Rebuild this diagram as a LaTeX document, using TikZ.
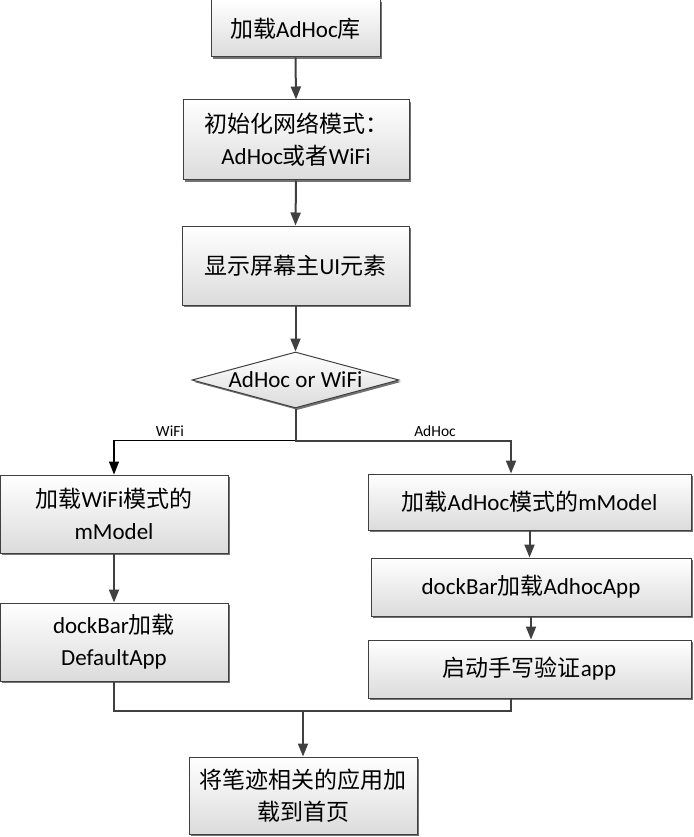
\documentclass[tikz,border=0pt]{standalone}
\usepackage{fontspec}
\setmainfont{Carlito}
\newfontfamily\cjk{Noto Sans CJK SC}
\newcommand\zhc[1]{{\cjk #1}}
\usetikzlibrary{shapes.geometric,arrows.meta,shadows}
\definecolor{edge}{HTML}{404040}
\tikzset{
  box/.style={draw=edge, line width=1pt, top color=white, bottom color=black!14,
    drop shadow={shadow xshift=2pt, shadow yshift=-2pt, fill=black!55, opacity=1},
    inner sep=0pt, align=center, font=\fontsize{23}{32}\selectfont},
  arr/.style={draw=edge, line width=2pt, -{Triangle[length=13pt,width=10pt]}},
  conn/.style={draw=edge, line width=2pt},
  thinarr/.style={draw=black, line width=1.2pt, -{Triangle[length=13pt,width=10pt]}},
  lbl/.style={font=\fontsize{15.5}{17}\selectfont, inner sep=0pt}
}
\begin{document}
\begin{tikzpicture}[x=1pt,y=-1pt]
\useasboundingbox (0,0) rectangle (693,837);
\node[box, minimum width=169pt, minimum height=57pt] (b1) at (295.5,28.5) {\zhc{加载}AdHoc\zhc{库}};
\node[box, minimum width=226pt, minimum height=80pt] (b2) at (296,140) {\zhc{初始化网络模式：}\\AdHoc\zhc{或者}WiFi};
\node[box, minimum width=227pt, minimum height=79pt] (b3) at (295.5,265.5) {\zhc{显示屏幕主}UI\zhc{元素}};
\node[box, shape=diamond, aspect=3.7, minimum width=207pt, minimum height=56pt] (dia) at (295.5,380) {AdHoc or WiFi};
\node[box, minimum width=228pt, minimum height=78pt] (L1) at (114,514) {\zhc{加载}WiFi\zhc{模式的}\\mModel};
\node[box, minimum width=228pt, minimum height=78pt] (L2) at (114,642) {dockBar\zhc{加载}\\DefaultApp};
\node[box, minimum width=323pt, minimum height=56pt] (R1) at (529.5,502) {\zhc{加载}AdHoc\zhc{模式的}mModel};
\node[box, minimum width=320pt, minimum height=58pt] (R2) at (531,587) {dockBar\zhc{加载}AdhocApp};
\node[box, minimum width=323pt, minimum height=58pt] (R3) at (529.5,669) {\zhc{启动手写验证}app};
\node[box, minimum width=228pt, minimum height=77pt] (B) at (303,795.5) {\zhc{将笔迹相关的应用加}\\\zhc{载到首页}};
\node[lbl] (lw) at (170,431) {WiFi};
\node[lbl] (la) at (435,431) {AdHoc};
\coordinate (m) at (303,711);
\draw[arr] (b1.south) -- (b2.north);
\draw[arr] (b2.south) -- (b3.north);
\draw[arr] (b3.south) -- (dia.north);
\draw[thinarr] (dia.south) -- ++(0,32) -| (L1.north);
\draw[arr] (dia.south) -- ++(0,32) -| ([xshift=-18.5pt]R1.north);
\draw[arr] (L1.south) -- (L2.north);
\draw[arr] (R1.south) -- (R1.south |- R2.north);
\draw[arr] (R2.south) -- (R2.south |- R3.north);
\draw[conn] (L2.south) |- (m);
\draw[conn] ([xshift=-18.5pt]R3.south) |- (m);
\draw[arr] (m) -- (B.north);
\end{tikzpicture}
\end{document}
